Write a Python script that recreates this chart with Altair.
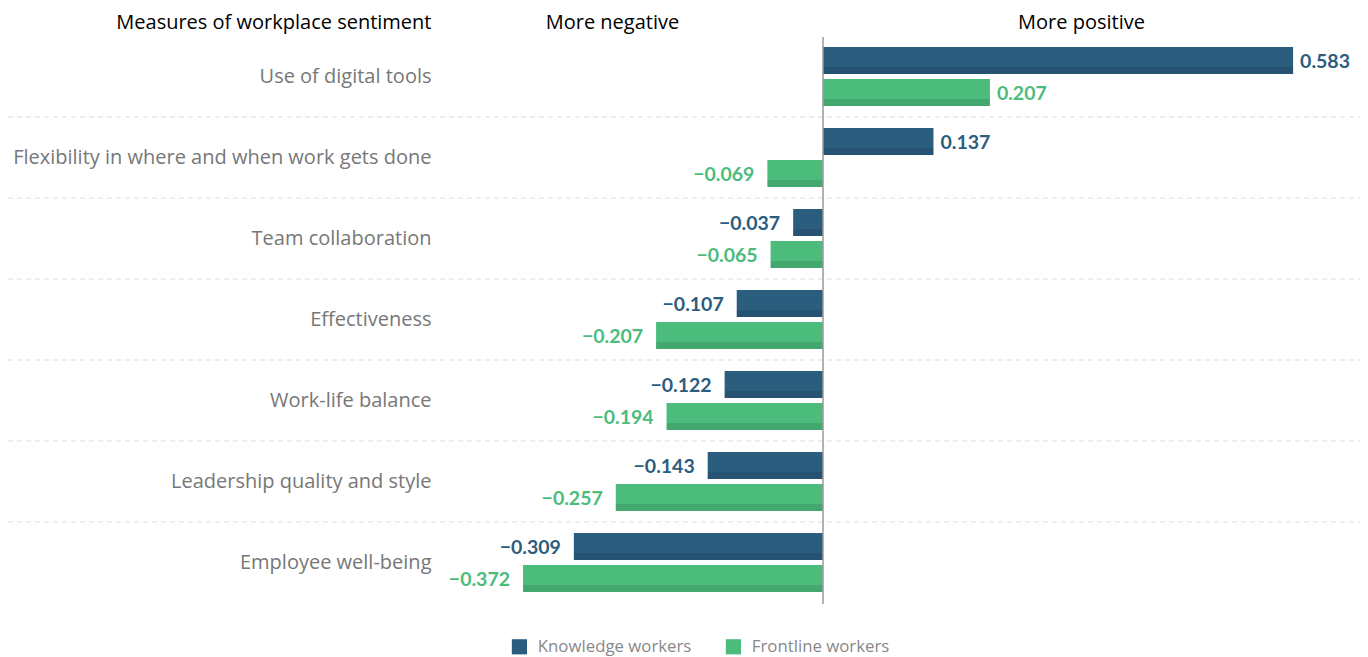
import altair as alt
import pandas as pd

categories = [
    "Use of digital tools",
    "Flexibility in where and when work gets done",
    "Team collaboration",
    "Effectiveness",
    "Work-life balance",
    "Leadership quality and style",
    "Employee well-being",
]
series = ["Knowledge workers", "Frontline workers"]
knowledge = [0.583, 0.137, -0.037, -0.107, -0.122, -0.143, -0.309]
frontline = [0.207, -0.069, -0.065, -0.207, -0.194, -0.257, -0.372]
colors = ["#2b5d7f", "#4bbc7c"]

rows = []
for c, k, f in zip(categories, knowledge, frontline):
    for s, v in ((series[0], k), (series[1], f)):
        rows.append({"cat": c, "series": s, "value": v,
                     "label": f"{v:.3f}".replace("-", "\u2212")})
df = pd.DataFrame(rows)
sep_df = pd.DataFrame({"cat": categories[1:]})
zero_df = pd.DataFrame({"v": [0]})

W, H = 920, 567
FONT = "Open Sans"
VFONT = "Lato"

x_scale = alt.Scale(domain=[-0.475, 0.666], nice=False, zero=False)
y_scale = alt.Scale(domain=categories, paddingInner=0, paddingOuter=0)
yo_scale = alt.Scale(domain=series, paddingInner=0.15625, paddingOuter=0.34375)
color_scale = alt.Scale(domain=series, range=colors)

base = alt.Chart(df)

X = alt.X("value:Q", scale=x_scale,
          axis=alt.Axis(orient="top", values=[-0.2617, 0.32],
                        labelExpr="datum.value < 0 ? 'More negative' : 'More positive'",
                        ticks=False, domain=False, grid=False,
                        labelFontSize=20, labelColor="#000000", labelFont=FONT,
                        labelPadding=4, title=None))
Y = alt.Y("cat:N", scale=y_scale, sort=categories,
          axis=alt.Axis(ticks=False, domain=False, grid=False,
                        labelFontSize=20, labelColor="#777777", labelFont=FONT,
                        labelPadding=9, labelLimit=440,
                        title="Measures of workplace sentiment",
                        titleAngle=0, titleAlign="right", titleBaseline="bottom",
                        titleX=-9, titleY=-4, titleFontSize=20,
                        titleFontWeight="normal", titleColor="#000000", titleFont=FONT))
YO = alt.YOffset("series:N", scale=yo_scale, sort=series)

bars = base.mark_bar().encode(
    x=X, x2=alt.datum(0), y=Y, yOffset=YO,
    color=alt.Color("series:N", scale=color_scale, sort=series,
                    legend=alt.Legend(title=None, orient="none", direction="horizontal",
                                      legendX=71, legendY=602,
                                      symbolType="square", symbolSize=230,
                                      symbolStrokeWidth=0,
                                      labelFontSize=16.8, labelColor="#888888",
                                      labelFont=FONT, labelOffset=10,
                                      columnPadding=33)),
)

gradient = alt.Gradient(
    gradient="linear", x1=0, y1=0, x2=0, y2=1,
    stops=[alt.GradientStop(offset=0, color="rgba(0,0,0,0)"),
           alt.GradientStop(offset=0.74, color="rgba(0,0,0,0)"),
           alt.GradientStop(offset=0.74, color="rgba(0,0,0,0.11)"),
           alt.GradientStop(offset=1, color="rgba(0,0,0,0.11)")])

shade = base.mark_bar(fill=gradient).encode(
    x=alt.X("value:Q", scale=x_scale), x2=alt.datum(0),
    y=alt.Y("cat:N", scale=y_scale, sort=categories), yOffset=YO,
)

text_common = dict(fontSize=19.5, fontWeight="bold", font=VFONT, baseline="middle", dy=1)
pos_text = base.transform_filter("datum.value >= 0").mark_text(
    align="left", dx=7, **text_common).encode(
    x=alt.X("value:Q", scale=x_scale),
    y=alt.Y("cat:N", scale=y_scale, sort=categories), yOffset=YO,
    text="label:N",
    color=alt.Color("series:N", scale=color_scale, sort=series, legend=None),
)
neg_text = base.transform_filter("datum.value < 0").mark_text(
    align="right", dx=-13, **text_common).encode(
    x=alt.X("value:Q", scale=x_scale),
    y=alt.Y("cat:N", scale=y_scale, sort=categories), yOffset=YO,
    text="label:N",
    color=alt.Color("series:N", scale=color_scale, sort=series, legend=None),
)

seps = alt.Chart(sep_df).mark_rule(color="#dddddd", strokeDash=[5, 4], strokeWidth=1).encode(
    y=alt.Y("cat:N", scale=y_scale, sort=categories, bandPosition=0),
    x=alt.value(-432), x2=alt.value(W),
)

zero = alt.Chart(zero_df).mark_rule(color="#999999", strokeWidth=1.5).encode(
    x=alt.X("v:Q", scale=x_scale),
    y=alt.value(1), y2=alt.value(H + 1),
)

chart = alt.layer(seps, bars, shade, zero, pos_text, neg_text).properties(
    width=W, height=H,
    autosize=alt.AutoSizeParams(type="none"),
    padding={"left": 432, "top": 28, "right": 0, "bottom": 62},
).configure(font=FONT).configure_view(stroke="transparent", strokeWidth=0)

chart.save("out.html", embed_options={"renderer": "svg", "actions": False})
